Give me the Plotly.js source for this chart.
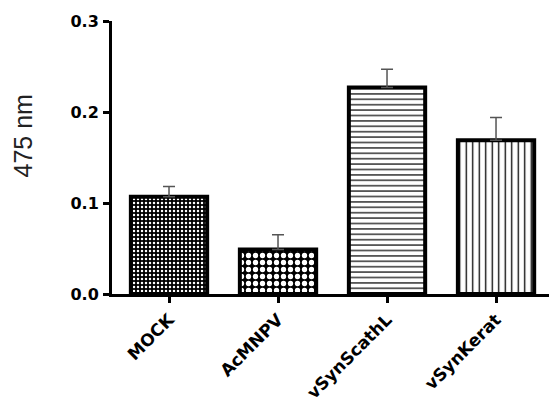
<!DOCTYPE html>
<html>
<head>
<meta charset="utf-8">
<script src="https://cdn.plot.ly/plotly-3.0.1.min.js"></script>
<style>html,body{margin:0;padding:0;background:#fff;}#chart{width:549px;height:403px;}</style>
</head>
<body>
<div id="chart"></div>
<script>
var categories = ["MOCK", "AcMNPV", "vSynScathL", "vSynKerat"];
var values = [0.107, 0.049, 0.227, 0.169];
var errors = [0.011, 0.016, 0.020, 0.025];
var yTicks = [0.0, 0.1, 0.2, 0.3];
var yTickLabels = ["0.0", "0.1", "0.2", "0.3"];

var patterns = [
  {shape: ".", fgcolor: "#ffffff", bgcolor: "#000000", size: 4, solidity: 0.3, fillmode: "replace"},
  {shape: ".", fgcolor: "#ffffff", bgcolor: "#000000", size: 7, solidity: 0.45, fillmode: "replace"},
  {shape: "-", fgcolor: "#000000", bgcolor: "#ffffff", size: 5.4, solidity: 0.22, fillmode: "replace"},
  {shape: "|", fgcolor: "#000000", bgcolor: "#ffffff", size: 6.5, solidity: 0.2, fillmode: "replace"}
];

var traces = categories.map(function (c, i) {
  return {
    type: "bar",
    x: [c],
    y: [values[i]],
    width: 0.7,
    marker: {color: "#ffffff", pattern: patterns[i], line: {color: "#000000", width: 4}},
    error_y: {type: "data", symmetric: false, array: [errors[i]], arrayminus: [0], color: "#555555", thickness: 1.5, width: 6},
    hoverinfo: "skip",
    showlegend: false
  };
});

var tickFontFamily = "DejaVu Sans, Liberation Sans, Arial, sans-serif";

var layout = {
  width: 549,
  height: 403,
  margin: {l: 112, r: 0, t: 21, b: 109},
  paper_bgcolor: "#ffffff",
  plot_bgcolor: "#ffffff",
  hovermode: false,
  barmode: "overlay",
  font: {family: "Liberation Sans, Arial, sans-serif", color: "#000000"},
  xaxis: {
    type: "category",
    categoryorder: "array",
    categoryarray: categories,
    range: [-0.523, 3.486],
    showline: true,
    linecolor: "#000000",
    linewidth: 3,
    ticks: "outside",
    ticklen: 6,
    tickwidth: 3,
    tickcolor: "#000000",
    tickangle: -45,
    tickfont: {size: 17, family: tickFontFamily, weight: "bold", color: "#000000"},
    showgrid: false,
    zeroline: false,
    fixedrange: true
  },
  yaxis: {
    range: [0, 0.3],
    tickvals: yTicks,
    ticktext: yTickLabels,
    showline: true,
    linecolor: "#000000",
    linewidth: 3,
    ticks: "outside",
    ticklen: 6,
    tickwidth: 3,
    tickcolor: "#000000",
    ticklabelstandoff: 1,
    tickfont: {size: 16, family: tickFontFamily, weight: "bold", color: "#000000"},
    showgrid: false,
    zeroline: false,
    fixedrange: true
  },
  annotations: [{
    text: "475 nm",
    xref: "paper", yref: "paper",
    x: -0.204, y: 0.58,
    xanchor: "center", yanchor: "middle",
    textangle: -90,
    showarrow: false,
    font: {size: 25, family: "Liberation Sans, Arial, sans-serif", color: "#222222"}
  }]
};

Plotly.newPlot("chart", traces, layout, {displayModeBar: false, staticPlot: true});
</script>
</body>
</html>
